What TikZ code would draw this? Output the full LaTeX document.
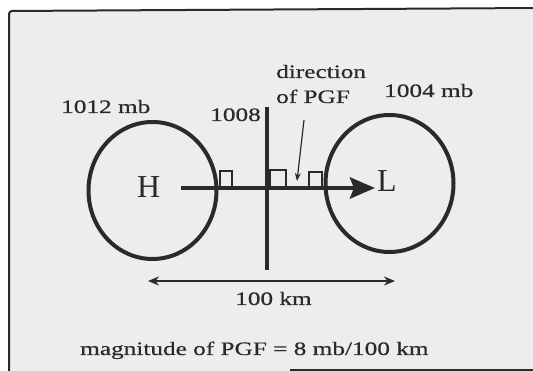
\documentclass[tikz,border=0pt]{standalone}
\usepackage{fontspec}
\setmainfont{Liberation Serif}
\newfontfamily\widefont[FakeStretch=1.33,FakeBold=0.6]{Liberation Serif}
\usetikzlibrary{shapes.geometric,arrows.meta}
\definecolor{ink}{HTML}{2A2A2A}
\definecolor{paper}{HTML}{EDEDED}
\begin{document}
\begin{tikzpicture}[x=1pt,y=-1pt,
  lbl/.style={inner sep=0pt,anchor=base west,text=ink,font=\widefont\fontsize{19}{22}\selectfont},
  big/.style={inner sep=0pt,anchor=base west,text=ink,font=\fontsize{32}{36}\selectfont},
  iso/.style={draw=ink,line width=4pt,ellipse,inner sep=0pt,minimum width=128pt,minimum height=137pt},
  sq/.style={draw=ink,line width=1.6pt},
  thick line/.style={draw=ink,line width=4.5pt}]
\useasboundingbox (0,0) rectangle (533,371);
\fill[white] (0,0) rectangle (533,371);
\fill[paper] (9,10) rectangle (540,371);
\draw[ink,line width=2pt,rounded corners=3pt] (9,371) -- (9,11) -- (540,8);
\draw[ink,line width=2.5pt] (290,370) -- (540,370);
% isobars
\node[iso] (hi) at (152.5,190.5) {};
\node[iso] (lo) at (389.5,183.5) {};
% vertical 1008 isobar
\coordinate (vtop) at (267,107);
\coordinate (vbot) at (267,270);
\draw[ink,line width=3.5pt] (vtop) -- (vbot);
% right-angle marks
\draw[sq] (220,188) -- (220,171) -- (232,171) -- (232,188);
\draw[sq] (270,188) -- (270,170) -- (286,170) -- (286,188);
\draw[sq] (309,188) -- (309,172) -- (322,172) -- (322,188);
% PGF arrow
\coordinate (pstart) at (181,188);
\coordinate (pend) at (375,188);
\draw[thick line,-{Stealth[length=25pt,width=21pt,inset=4pt]}] (pstart) -- (pend);
% labels
\node[big] (H) at (137,198) {H};
\node[big] (L) at (377,192) {L};
\node[lbl] (l1012) at (61,113) {1012 mb};
\node[lbl] (l1004) at (384,97) {1004 mb};
\node[lbl,anchor=base east] (l1008) at (261,121) {1008};
\node[lbl] (dir1) at (276,78) {direction};
\node[lbl] (dir2) at (276,103) {of PGF};
\coordinate (pfrom) at (304,120);
\coordinate (ptip) at (297,181);
\draw[ink,line width=1.2pt,-{Stealth[length=8pt,width=6pt]}] (pfrom) -- (ptip);
% distance
\coordinate (dL) at (148,281);
\coordinate (dR) at (395,281);
\draw[ink,line width=2pt,{Stealth[length=11pt,width=9pt]}-{Stealth[length=11pt,width=9pt]}] (dL) -- (dR);
\node[lbl] (km) at (235,305) {100 km};
\node[lbl] (mag) at (80,355) {magnitude of PGF = 8 mb/100 km};
\end{tikzpicture}
\end{document}
